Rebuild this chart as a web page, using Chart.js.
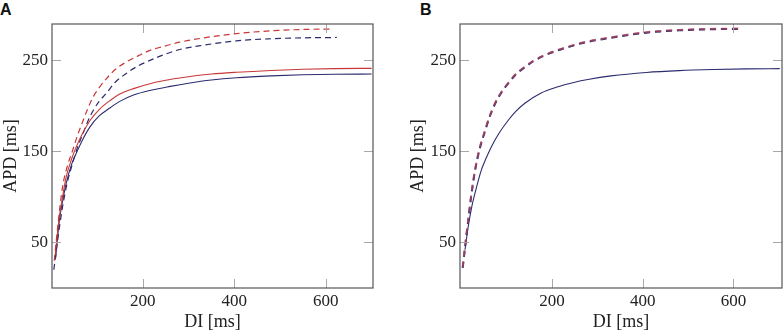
<!DOCTYPE html>
<html>
<head>
<meta charset="utf-8">
<script src="https://cdn.jsdelivr.net/npm/chart.js@4.4.1/dist/chart.umd.min.js"></script>
<style>
    body { margin: 0; background: #fff; width: 784px; height: 331px; overflow: hidden; position: relative; }
    canvas { position: absolute; top: 0; }
    .tag { position: absolute; top: 2px; font: bold 16px "Liberation Sans", Arial, sans-serif; line-height: 16px; color: #111; }
</style>
</head>
<body>
<div class="tag" style="left:0px">A</div>
<div class="tag" style="left:420px">B</div>
<canvas id="chartA" width="392" height="331" style="left:0px"></canvas>
<canvas id="chartB" width="377" height="331" style="left:407px"></canvas>
<script>
// tick labels
const xTicks = [200, 400, 600];
const yTicks = [50, 150, 250];

// Panel A
const aRedSolidDI  = [9, 18, 25, 33, 45, 55, 70, 85, 105, 129, 150, 180, 220, 260, 300, 350, 405, 480, 550, 620, 700];
const aRedSolidAPD = [36, 78, 100, 122, 142, 155, 171, 184, 196, 206, 213, 219, 225, 229, 232, 235, 237, 239, 240.3, 241, 241.3];
const aNavySolidDI  = [10, 18, 25, 33, 45, 55, 70, 85, 105, 129, 150, 180, 220, 260, 300, 350, 405, 480, 550, 620, 700];
const aNavySolidAPD = [33, 74, 95, 115, 136, 148, 164, 177, 189, 198, 205, 212, 217.5, 221.5, 225, 228.5, 231, 233, 234.2, 234.8, 235];
const aRedDashDI  = [7, 15, 25, 35, 47, 58, 70, 80, 92, 105, 121, 140, 165, 190, 216, 250, 281, 330, 405, 480, 550, 615];
const aRedDashAPD = [30, 70, 111, 133, 151, 168, 184, 197, 210, 220, 230, 240, 248.5, 255, 261, 266, 270, 274.5, 279.5, 282.5, 284, 284.5];
const aNavyDashDI  = [6, 15, 25, 35, 47, 58, 70, 80, 92, 105, 121, 140, 165, 190, 216, 250, 281, 330, 405, 480, 550, 624];
const aNavyDashAPD = [20, 55, 89, 115, 137, 155, 170, 183, 195, 205, 214, 226, 236, 244, 250, 257, 262, 266.5, 271.5, 273.8, 274.8, 275.2];

// Panel B
const bNavySolidDI  = [8, 15, 22, 30, 44, 55, 66, 83, 103, 120, 140, 175, 213, 250, 279, 330, 408, 480, 555, 630, 702];
const bNavySolidAPD = [42, 67, 87, 104, 129.5, 143, 155, 170, 184, 194, 203, 214, 221, 226, 229, 233, 236.8, 238.8, 240, 240.7, 241];
const bRedDashDI  = [3, 8, 15, 22, 30, 40, 52, 62, 74, 88, 103, 120, 140, 160, 184, 210, 235, 270, 320, 408, 480, 555, 614];
const bRedDashAPD = [23, 45, 74.5, 103, 129.5, 153, 173, 188, 203, 215, 225, 235, 243, 250, 256, 261, 265, 270, 274.5, 281, 283.5, 284.7, 285];
const bNavyDashDI  = [3, 8, 15, 22, 30, 40, 52, 62, 74, 88, 103, 120, 140, 160, 184, 210, 235, 270, 320, 408, 480, 555, 612];
const bNavyDashAPD = [22, 44, 73.5, 102, 128.5, 152, 172, 187.5, 202, 214.5, 224.5, 234.5, 242.5, 249.5, 255.5, 260.5, 264.5, 269.5, 274, 280.5, 283, 284.3, 284.6];

const RED = '#c83737';
const NAVY = '#2b2b6e';

const pts = (xs, ys) => xs.map((x, i) => ({x: x, y: ys[i]}));

function line(xs, ys, color, width, dash) {
    return {
        data: pts(xs, ys),
        showLine: true,
        borderColor: color,
        borderWidth: width,
        borderDash: dash || [],
        pointRadius: 0,
        cubicInterpolationMode: 'monotone',
        fill: false
    };
}

// box around the plot area and inner tick marks on all four sides
const frame = {
    id: 'frame',
    afterDraw(chart) {
        const {ctx, chartArea: a, scales: {x, y}} = chart;
        const len = 9;
        ctx.save();
        ctx.strokeStyle = '#a8a8a8';
        ctx.lineWidth = 1;
        ctx.beginPath();
        xTicks.forEach(v => {
            const px = Math.round(x.getPixelForValue(v)) + 0.5;
            ctx.moveTo(px, a.bottom); ctx.lineTo(px, a.bottom - len);
            ctx.moveTo(px, a.top); ctx.lineTo(px, a.top + len);
        });
        yTicks.forEach(v => {
            const py = Math.round(y.getPixelForValue(v)) + 0.5;
            ctx.moveTo(a.left, py); ctx.lineTo(a.left + len, py);
            ctx.moveTo(a.right, py); ctx.lineTo(a.right - len, py);
        });
        ctx.stroke();
        ctx.strokeStyle = '#555';
        ctx.lineWidth = 1.2;
        ctx.strokeRect(a.left, a.top, a.right - a.left, a.bottom - a.top);
        ctx.restore();
    }
};

const tickFont = {family: '"Liberation Serif", "Times New Roman", serif', size: 17};
const titleFont = {family: '"Liberation Serif", "Times New Roman", serif', size: 18, lineHeight: 1};

function makePanel(id, datasets, xMin, xMax, yWidth, padRight) {
    return new Chart(document.getElementById(id), {
        type: 'scatter',
        data: {datasets: datasets},
        options: {
            responsive: false,
            animation: false,
            devicePixelRatio: 1,
            layout: {padding: {top: 24, right: padRight, left: 0, bottom: 0}},
            plugins: {legend: {display: false}, tooltip: {enabled: false}},
            scales: {
                x: {
                    type: 'linear',
                    min: xMin,
                    max: xMax,
                    afterBuildTicks: s => { s.ticks = xTicks.map(v => ({value: v})); },
                    afterFit: s => { s.height = 43; },
                    grid: {display: false, drawTicks: false},
                    border: {display: false},
                    ticks: {font: tickFont, color: '#222', padding: 3, maxRotation: 0},
                    title: {display: true, text: 'DI [ms]', font: titleFont, color: '#222', padding: {top: 0, bottom: 0}}
                },
                y: {
                    type: 'linear',
                    min: 0,
                    max: 290,
                    afterBuildTicks: s => { s.ticks = yTicks.map(v => ({value: v})); },
                    afterFit: s => { s.width = yWidth; },
                    grid: {display: false, drawTicks: false},
                    border: {display: false},
                    ticks: {font: tickFont, color: '#222', padding: 4},
                    title: {display: true, text: 'APD [ms]', font: titleFont, color: '#222', padding: {top: 2, bottom: 0}}
                }
            }
        },
        plugins: [frame]
    });
}

// Chart.js paints the first dataset last, so red goes first to sit on top
makePanel('chartA', [
    line(aRedSolidDI, aRedSolidAPD, RED, 1.1),
    line(aNavySolidDI, aNavySolidAPD, NAVY, 1.1),
    line(aRedDashDI, aRedDashAPD, RED, 1.2, [6, 4]),
    line(aNavyDashDI, aNavyDashAPD, NAVY, 1.2, [6, 4])
], 2, 703, 52, 19);

makePanel('chartB', [
    line(bRedDashDI, bRedDashAPD, 'rgba(175,70,95,0.75)', 2, [6, 5]),
    line(bNavyDashDI, bNavyDashAPD, NAVY, 2, [6, 5]),
    line(bNavySolidDI, bNavySolidAPD, NAVY, 1.1)
], -3, 707, 53, 2);
</script>
</body>
</html>
